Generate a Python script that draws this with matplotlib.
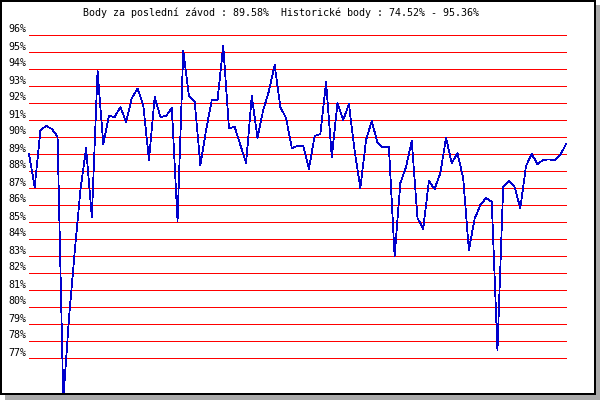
import matplotlib
matplotlib.use("Agg")
import matplotlib.pyplot as plt
from matplotlib.patches import Rectangle
import matplotlib.transforms as mtransforms

# ---- data ----
title_text = "Body za poslední závod : 89.58%  Historické body : 74.52% - 95.36%"
grid_levels = list(range(77, 97))
grid_labels = [f"{v}%" for v in grid_levels]
points = [
    89.00, 87.06, 90.41, 90.65, 90.47, 90.03, 74.52, 79.35, 83.24, 86.88,
    89.35, 85.29, 93.88, 89.59, 91.24, 91.18, 91.76, 90.88, 92.29, 92.85,
    91.88, 88.65, 92.35, 91.18, 91.24, 91.71, 85.06, 95.06, 92.41, 92.06,
    88.35, 90.41, 92.18, 92.18, 95.36, 90.53, 90.59, 89.53, 88.47, 92.41,
    89.94, 91.59, 92.71, 94.24, 91.76, 91.12, 89.35, 89.47, 89.47, 88.12,
    90.06, 90.18, 93.24, 88.82, 92.00, 91.00, 91.94, 89.18, 87.00, 89.82,
    90.94, 89.65, 89.38, 89.41, 83.00, 87.29, 88.24, 89.76, 85.24, 84.59,
    87.41, 86.94, 87.88, 89.94, 88.47, 89.06, 87.59, 83.35, 85.18, 86.00,
    86.41, 86.18, 77.47, 87.06, 87.41, 87.06, 85.82, 88.29, 89.00, 88.41,
    88.65, 88.68, 88.65, 88.94, 89.58,
]

W, H = 600, 400
fig = plt.figure(figsize=(6, 4), dpi=100)
fig.patch.set_facecolor("white")

def fx(px):
    return px / W

def fy(py):
    return (H - py) / H

# frame shadow and border
fig.patches.append(Rectangle((fx(596), fy(400)), 4 / W, (400 - 5) / H,
                             transform=fig.transFigure, facecolor="#aaaaaa",
                             edgecolor="none", zorder=0))
fig.patches.append(Rectangle((fx(5), fy(400)), (600 - 5) / W, 5 / H,
                             transform=fig.transFigure, facecolor="#aaaaaa",
                             edgecolor="none", zorder=0))
for (x0, y0, w, h) in [(0, 0, 596, 2), (0, 0, 2, 395), (594, 0, 2, 395), (0, 393, 596, 2)]:
    fig.patches.append(Rectangle((fx(x0), fy(y0 + h)), w / W, h / H,
                                 transform=fig.transFigure, facecolor="black",
                                 edgecolor="none", zorder=5))

# plot area: x 29..566 px, y 35..394 px (96% at 35 px, 17 px per 1%)
px_per_unit = 17.0
ax_top, ax_bot = 35, 394
ax = fig.add_axes([fx(29), fy(ax_bot), (566 - 29) / W, (ax_bot - ax_top) / H])
ax.set_xlim(0, len(points) - 1)
ax.set_ylim(96 - (ax_bot - ax_top) / px_per_unit, 96)
ax.axis("off")

for v in grid_levels:
    ax.axhline(v, color="#ff0000", lw=0.72, antialiased=False, clip_on=False, zorder=1)

ax.plot(range(len(points)), points, color="#0000cc", lw=0.55,
        antialiased=False, clip_on=False, zorder=2)

mono = "DejaVu Sans Mono"
trans = mtransforms.blended_transform_factory(fig.transFigure, ax.transData)
for v, lab in zip(grid_levels, grid_labels):
    fig.text(fx(8), v + 2.5 / px_per_unit, lab, transform=trans, ha="left",
             va="baseline", fontsize=7.2, family=mono, color="black")

fig.text(fx(83), fy(16.5), title_text, ha="left", va="baseline",
         fontsize=7.2, family=mono, color="black")

fig.savefig("out.png", dpi=100, facecolor="white")
